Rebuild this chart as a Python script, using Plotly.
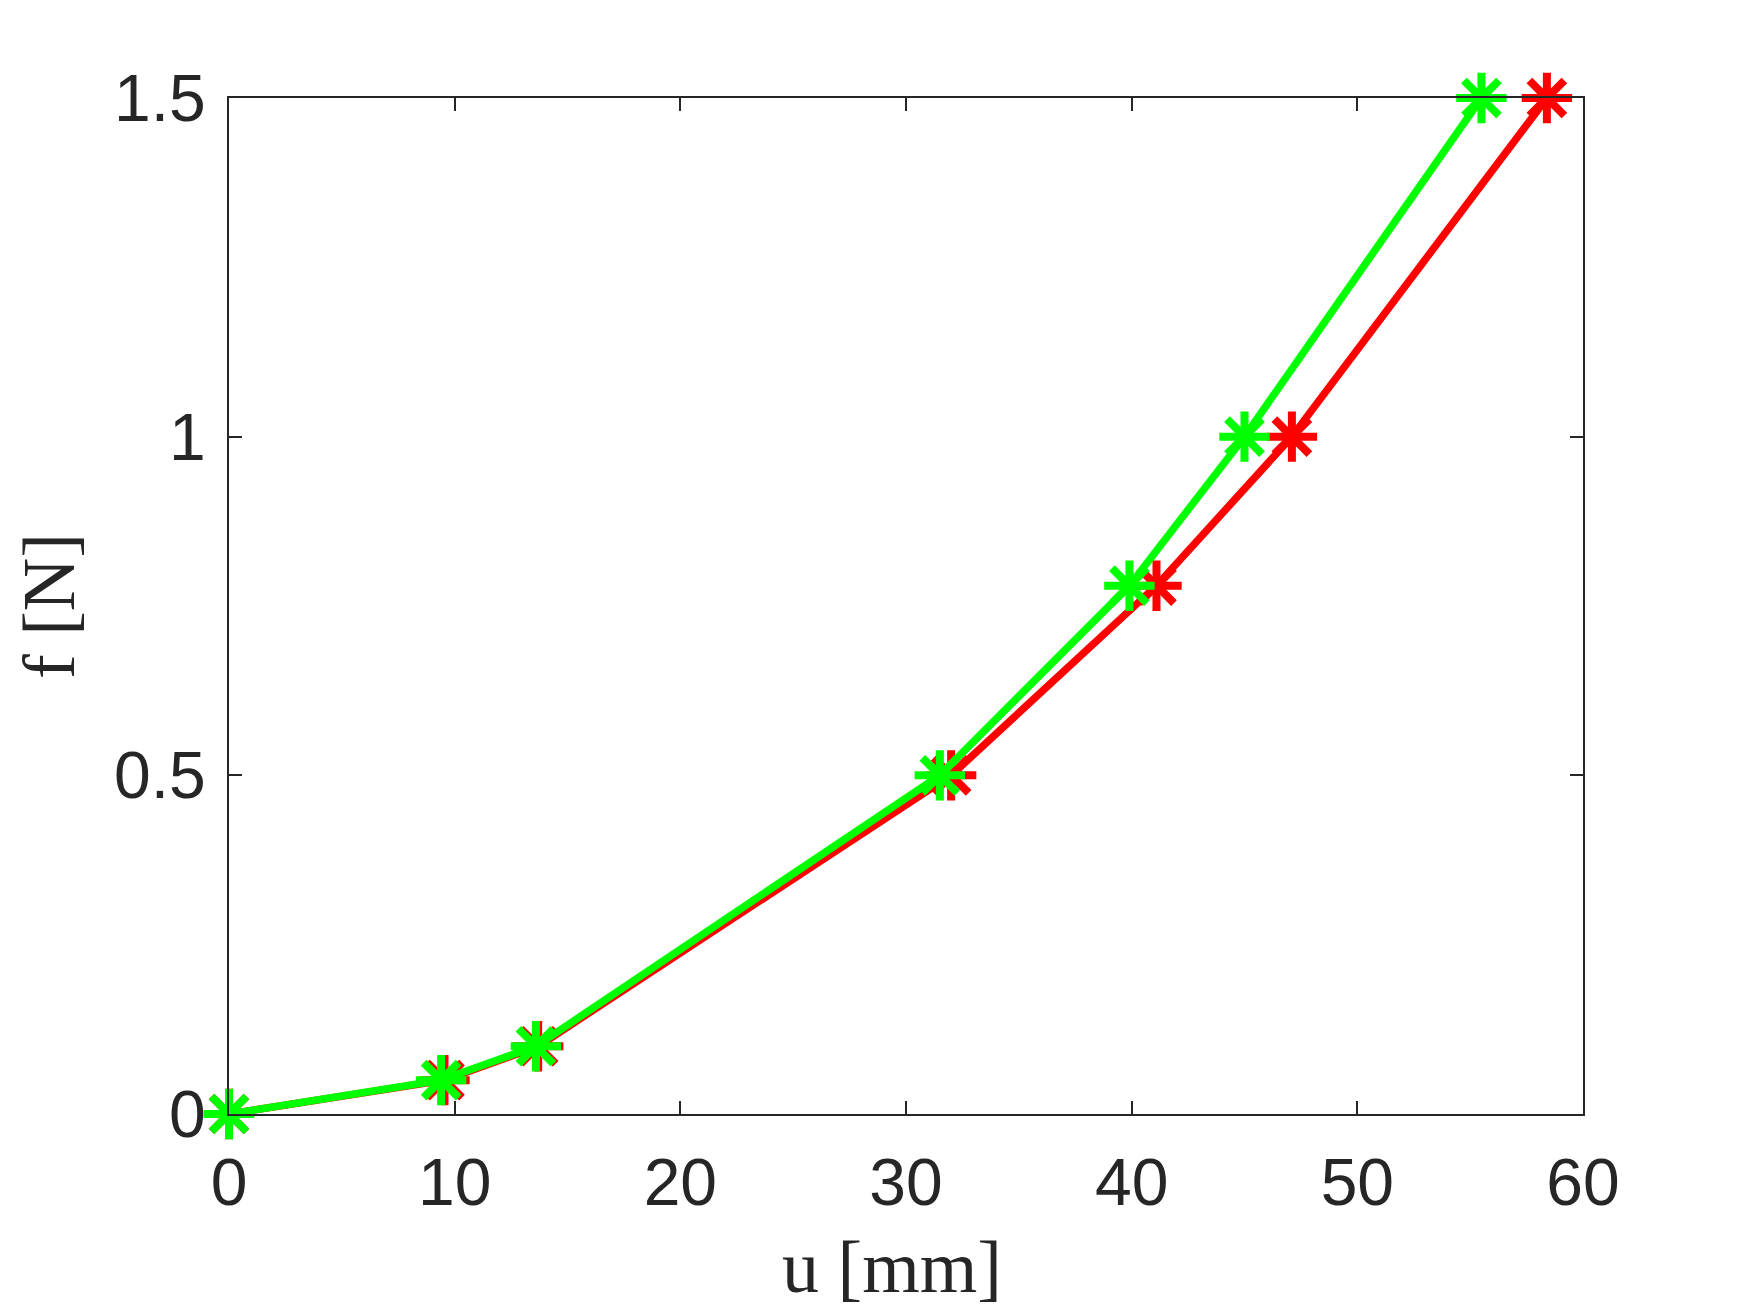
import plotly.graph_objects as go

force = [0, 0.05, 0.1, 0.5, 0.78, 1.0, 1.5]
u_red = [0, 9.55, 13.7, 32.0, 41.1, 47.1, 58.4]
u_green = [0, 9.4, 13.6, 31.5, 39.9, 45.0, 55.5]

x_ticks = [0, 10, 20, 30, 40, 50, 60]
y_ticks = [0, 0.5, 1, 1.5]
y_tick_text = ["0", "0.5", "1", "1.5"]

series = [("#FF0000", u_red), ("#00FF00", u_green)]

fig = go.Figure()
for color, xs in series:
    fig.add_trace(go.Scatter(x=xs, y=force, mode="lines", cliponaxis=False,
                             line=dict(color=color, width=7.5), showlegend=False,
                             hoverinfo="skip"))
    fig.add_trace(go.Scatter(x=xs, y=force, mode="markers", cliponaxis=False,
                             marker=dict(symbol="cross-thin", size=36,
                                         line=dict(color=color, width=8)),
                             showlegend=False))
    fig.add_trace(go.Scatter(x=xs, y=force, mode="markers", cliponaxis=False,
                             marker=dict(symbol="x-thin", size=35,
                                         line=dict(color=color, width=8)),
                             showlegend=False))

axis_common = dict(
    showline=True, linecolor="#262626", linewidth=2, mirror="ticks",
    ticks="inside", ticklen=13, tickwidth=2, tickcolor="#262626",
    showgrid=False, zeroline=False,
    tickfont=dict(family="Liberation Sans, Arial", size=66, color="#262626"),
)

fig.update_layout(
    width=1750, height=1313,
    margin=dict(l=221, r=175, t=90, b=207),
    paper_bgcolor="white", plot_bgcolor="white",
    xaxis=dict(range=[0, 60], tickvals=x_ticks, ticklabelstandoff=10,
               **axis_common),
    yaxis=dict(range=[0, 1.5], tickvals=y_ticks, ticktext=y_tick_text,
               ticklabelstandoff=8,
               title=dict(text="f [N]", standoff=20,
                          font=dict(family="Liberation Serif", size=74, color="#262626")),
               **axis_common),
    annotations=[dict(text="u [mm]", xref="paper", yref="paper", x=0.5, y=0,
                      xanchor="center", yanchor="middle", xshift=-14, yshift=-153,
                      showarrow=False,
                      font=dict(family="Liberation Serif", size=74, color="#262626"))],
)

fig.write_html("out.html")
